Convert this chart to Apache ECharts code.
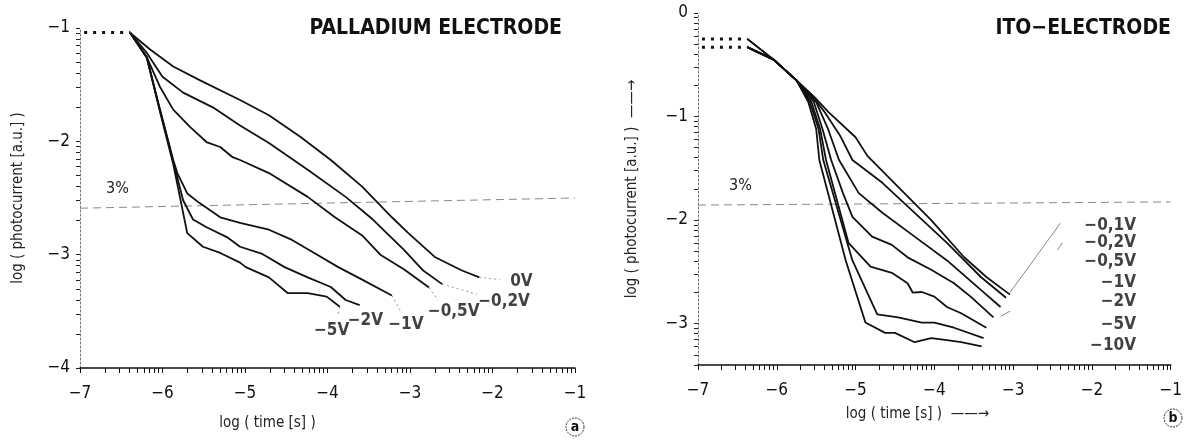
<!DOCTYPE html>
<html lang="en">
<head>
<meta charset="UTF-8">
<script src="https://cdn.jsdelivr.net/npm/echarts/dist/echarts.min.js"></script>
<title>Photocurrent decay</title>
<style>
    html, body { margin: 0; padding: 0; background: #fff; }
    #chart { width: 1185px; height: 440px; }
</style>
</head>
<body>
<div id="chart"></div>
<script>
// ---- Palladium electrode (panel a) ----
const pdStart = [[-6.95, -1.04], [-6.39, -1.04]];
const pd0V  = [[-6.39,-1.044],[-6.15,-1.19],[-5.87,-1.34],[-5.55,-1.46],[-5.06,-1.635],[-4.71,-1.77],[-4.33,-1.96],[-3.96,-2.165],[-3.58,-2.40],[-3.22,-2.67],[-3.02,-2.81],[-2.70,-3.02],[-2.37,-3.14],[-2.16,-3.20]];
const pd02V = [[-6.39,-1.044],[-6.19,-1.22],[-6.0,-1.43],[-5.75,-1.57],[-5.39,-1.70],[-5.06,-1.86],[-4.71,-2.015],[-4.24,-2.25],[-3.78,-2.49],[-3.45,-2.69],[-3.07,-2.96],[-2.84,-3.14],[-2.61,-3.26]];
const pd05V = [[-6.39,-1.044],[-6.19,-1.26],[-6.03,-1.52],[-5.87,-1.72],[-5.67,-1.87],[-5.46,-2.01],[-5.30,-2.05],[-5.15,-2.14],[-5.06,-2.165],[-4.71,-2.28],[-4.24,-2.49],[-3.91,-2.67],[-3.58,-2.83],[-3.36,-3.0],[-3.07,-3.13],[-2.77,-3.29]];
const pd1V  = [[-6.39,-1.044],[-6.19,-1.26],[-6.03,-1.72],[-5.87,-2.165],[-5.82,-2.28],[-5.70,-2.46],[-5.55,-2.545],[-5.30,-2.67],[-5.06,-2.72],[-4.71,-2.78],[-4.43,-2.87],[-4.15,-2.99],[-3.87,-3.11],[-3.58,-3.22],[-3.22,-3.36]];
const pd2V  = [[-6.39,-1.044],[-6.19,-1.26],[-6.03,-1.73],[-5.87,-2.18],[-5.75,-2.52],[-5.63,-2.69],[-5.46,-2.76],[-5.22,-2.845],[-5.06,-2.93],[-4.80,-2.99],[-4.52,-3.11],[-4.24,-3.20],[-3.96,-3.285],[-3.78,-3.40],[-3.61,-3.445]];
const pd5V  = [[-6.39,-1.044],[-6.19,-1.26],[-6.03,-1.74],[-5.87,-2.20],[-5.70,-2.81],[-5.51,-2.93],[-5.30,-2.985],[-5.06,-3.07],[-4.99,-3.11],[-4.71,-3.20],[-4.48,-3.34],[-4.24,-3.34],[-4.01,-3.37],[-3.85,-3.46]];
const pdCurves = [pd0V, pd02V, pd05V, pd1V, pd2V, pd5V];
const pdLabels = ['0V', '\u22120,2V', '\u22120,5V', '\u22121V', '\u22122V', '\u22125V'];
const pdLabelPos = [[-1.65,-3.24],[-1.86,-3.41],[-2.47,-3.50],[-3.05,-3.62],[-3.54,-3.58],[-3.95,-3.67]];
const pdLeaders = [
    [[-2.16,-3.20],[-1.91,-3.22]],
    [[-2.61,-3.26],[-2.19,-3.35]],
    [[-2.77,-3.29],[-2.66,-3.40]],
    [[-3.22,-3.36],[-3.12,-3.49]],
    [[-3.85,-3.46],[-3.87,-3.52]]
];
const pd3pct = [[-7, -2.59], [-1, -2.50]];
const pdYTicks = [-4, -3, -2, -1];

// ---- ITO electrode (panel b) ----
const itoStartA = [[-6.95, -0.25], [-6.375, -0.25]];
const itoStartB = [[-6.95, -0.33], [-6.375, -0.33]];
const ito01V = [[-6.375,-0.25],[-6.04,-0.45],[-5.75,-0.65],[-5.525,-0.81],[-5.34,-0.96],[-5.0,-1.2],[-4.85,-1.38],[-4.46,-1.68],[-4.04,-2.0],[-3.625,-2.357],[-3.34,-2.55],[-3.04,-2.72]];
const ito02V = [[-6.375,-0.25],[-6.04,-0.45],[-5.75,-0.65],[-5.56,-0.79],[-5.4,-0.95],[-5.2,-1.18],[-5.04,-1.42],[-4.66,-1.64],[-4.25,-1.93],[-3.84,-2.22],[-3.41,-2.55],[-3.09,-2.75]];
const ito05V = [[-6.375,-0.33],[-6.04,-0.45],[-5.75,-0.65],[-5.5,-0.86],[-5.35,-1.12],[-5.21,-1.42],[-4.96,-1.74],[-4.66,-1.93],[-4.25,-2.16],[-3.84,-2.39],[-3.41,-2.675],[-3.16,-2.84]];
const ito1V  = [[-6.375,-0.33],[-6.04,-0.45],[-5.75,-0.65],[-5.53,-0.86],[-5.42,-1.12],[-5.31,-1.42],[-5.16,-1.74],[-5.04,-1.97],[-4.79,-2.16],[-4.54,-2.24],[-4.34,-2.36],[-4.04,-2.48],[-3.75,-2.61],[-3.54,-2.74],[-3.25,-2.94]];
const ito2V  = [[-6.375,-0.33],[-6.04,-0.45],[-5.75,-0.65],[-5.56,-0.86],[-5.45,-1.12],[-5.375,-1.42],[-5.09,-2.22],[-4.81,-2.45],[-4.54,-2.51],[-4.34,-2.61],[-4.275,-2.70],[-4.16,-2.695],[-4.0,-2.74],[-3.84,-2.84],[-3.66,-2.90],[-3.34,-3.04]];
const ito5V  = [[-6.375,-0.33],[-6.04,-0.45],[-5.75,-0.65],[-5.58,-0.86],[-5.47,-1.12],[-5.41,-1.42],[-5.04,-2.39],[-4.725,-2.91],[-4.46,-2.94],[-4.16,-2.99],[-4.0,-2.99],[-3.75,-3.04],[-3.375,-3.14]];
const ito10V = [[-6.375,-0.33],[-6.04,-0.45],[-5.75,-0.65],[-5.6,-0.86],[-5.5,-1.12],[-5.46,-1.42],[-5.125,-2.39],[-4.875,-2.99],[-4.625,-3.09],[-4.5,-3.09],[-4.25,-3.18],[-4.04,-3.14],[-3.84,-3.16],[-3.66,-3.18],[-3.40,-3.22]];
const itoCurves = [ito01V, ito02V, ito05V, ito1V, ito2V, ito5V, ito10V];
const itoLabels = ['\u22120,1V', '\u22120,2V', '\u22120,5V', '\u22121V', '\u22122V', '\u22125V', '\u221210V'];
const itoLabelPos = [[-1.44,-2.05],[-1.44,-2.22],[-1.44,-2.405],[-1.44,-2.60],[-1.44,-2.79],[-1.44,-3.01],[-1.44,-3.21]];
const itoLeaders = [
    [[-3.04,-2.70],[-2.40,-2.03]],
    [[-2.44,-2.29],[-2.375,-2.22]],
    [[-3.16,-2.93],[-3.04,-2.88]]
];
const ito3pct = [[-7, -1.855], [-1, -1.825]];
const itoYTicks = [-3, -2, -1, 0];

const xTicks = [-7, -6, -5, -4, -3, -2, -1];

const font = "'Liberation Sans Narrow', 'DejaVu Sans Condensed', 'Roboto', sans-serif";

// log-spaced minor tick positions inside each decade
function logMinor(lo, hi) {
    const v = [];
    for (let d = Math.floor(lo); d < hi; d++) {
        for (let k = 2; k <= 9; k++) {
            const t = d + Math.log10(k);
            if (t > lo && t < hi) v.push(t);
        }
    }
    return v;
}
const minus = v => String(v).replace('-', '\u2212');

function xAxisFor(grid, name, gap, pad) {
    return {
        type: 'value', gridIndex: grid, min: -7, max: -1, interval: 1, position: 'bottom',
        name: name, nameLocation: 'middle', nameGap: gap,
        nameTextStyle: { fontSize: 15, color: '#222', fontFamily: font, padding: pad },
        axisLine: { onZero: false, lineStyle: { color: '#111', width: 1.6 } },
        axisTick: { show: true, length: 5, customValues: xTicks.concat(logMinor(-7, -1)), lineStyle: { color: '#111', width: 1 } },
        axisLabel: { color: '#111', fontSize: 17, fontFamily: font, margin: 17, customValues: xTicks, formatter: minus },
        splitLine: { show: false }
    };
}
function yAxisFor(grid, min, max, ticks, name, gap) {
    return {
        type: 'value', gridIndex: grid, min: min, max: max, position: 'left',
        name: name, nameLocation: 'middle', nameGap: gap,
        nameTextStyle: { fontSize: 15, color: '#222', fontFamily: font },
        axisLine: { onZero: false, lineStyle: { color: '#777', width: 1, type: [2, 2] } },
        axisTick: { show: true, length: 4, customValues: ticks.concat(logMinor(min, max)), lineStyle: { color: '#222', width: 1 } },
        axisLabel: { color: '#111', fontSize: 17, fontFamily: font, margin: 10, customValues: ticks, formatter: minus },
        splitLine: { show: false }
    };
}

const lineBase = { type: 'line', symbol: 'none', silent: true, animation: false };
const series = [];
function addLine(data, xi, yi, style, z) {
    series.push(Object.assign({}, lineBase, { data: data, xAxisIndex: xi, yAxisIndex: yi, lineStyle: style, z: z || 3 }));
}
function addLabels(names, pos, xi, yi, align) {
    series.push({
        type: 'scatter', xAxisIndex: xi, yAxisIndex: yi, symbolSize: 0, silent: true, animation: false,
        data: names.map((n, i) => ({ name: n, value: pos[i] })),
        label: { show: true, position: 'inside', formatter: '{b}', align: align,
            color: '#111', fontSize: 17, fontWeight: 'bold', fontFamily: font }
    });
}

const curveStyle = { color: '#111', width: 1.8 };
const dotStyle = { color: '#111', width: 3, type: [3, 6] };
const leaderStyle = { color: '#999', width: 1, type: [2, 3] };
const pctStyle = { color: '#888', width: 1, type: [8, 5] };

// plain curves first, decorated lines after
pdCurves.forEach(c => addLine(c, 0, 0, curveStyle));
itoCurves.forEach(c => addLine(c, 1, 1, curveStyle));
addLine(pdStart, 0, 0, dotStyle);
addLine(itoStartA, 1, 1, dotStyle);
addLine(itoStartB, 1, 1, dotStyle);
pdLeaders.forEach(l => addLine(l, 0, 0, leaderStyle, 2));
itoLeaders.forEach(l => addLine(l, 1, 1, { color: '#888', width: 1 }, 2));
addLine(pd3pct, 0, 0, pctStyle, 1);
addLine(ito3pct, 1, 1, pctStyle, 1);
addLabels(pdLabels, pdLabelPos, 0, 0, 'center');
addLabels(itoLabels, itoLabelPos, 1, 1, 'right');

const chart = echarts.init(document.getElementById('chart'));
chart.setOption({
    animation: false,
    backgroundColor: '#fff',
    textStyle: { fontFamily: font },
    title: [
        { text: 'PALLADIUM ELECTRODE', right: 618, top: 13,
          textStyle: { fontSize: 21, fontWeight: 'bold', color: '#111', fontFamily: font } },
        { text: 'ITO\u2212ELECTRODE', right: 9, top: 13,
          textStyle: { fontSize: 21, fontWeight: 'bold', color: '#111', fontFamily: font } },
        { text: '3%', left: 101, top: 176, textStyle: { fontSize: 16, fontWeight: 'normal', color: '#222', fontFamily: font } },
        { text: '3%', left: 724, top: 173, textStyle: { fontSize: 16, fontWeight: 'normal', color: '#222', fontFamily: font } }
    ],
    grid: [
        { left: 80, top: 28, width: 495, height: 340 },
        { left: 698, top: 13, width: 482, height: 352 }
    ],
    xAxis: [
        xAxisFor(0, 'log ( time [s] )', 48, [0, 120, 0, 0]),
        xAxisFor(1, 'log ( time [s] )  \u2014\u2014\u2192', 42, [0, 34, 0, 0])
    ],
    yAxis: [
        yAxisFor(0, -4, -1, pdYTicks, 'log ( photocurrent [a.u.] )', 54),
        yAxisFor(1, -3.4, 0, itoYTicks, 'log ( photocurrent [a.u.] )  \u2014\u2014\u2192', 58)
    ],
    graphic: [
        { type: 'circle', shape: { cx: 575, cy: 427, r: 9 }, style: { fill: 'none', stroke: '#333', lineWidth: 1, lineDash: [2, 1] } },
        { type: 'text', x: 575, y: 427, style: { text: 'a', fontSize: 14, fontWeight: 'bold', fontFamily: font, fill: '#111', align: 'center', verticalAlign: 'middle' } },
        { type: 'circle', shape: { cx: 1173, cy: 418, r: 9 }, style: { fill: 'none', stroke: '#333', lineWidth: 1, lineDash: [2, 1] } },
        { type: 'text', x: 1173, y: 418, style: { text: 'b', fontSize: 14, fontWeight: 'bold', fontFamily: font, fill: '#111', align: 'center', verticalAlign: 'middle' } }
    ],
    series: series
});
</script>
</body>
</html>
